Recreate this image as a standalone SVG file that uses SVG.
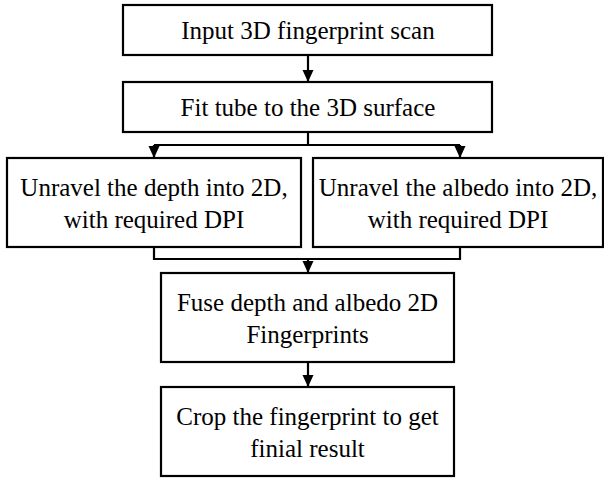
<svg xmlns="http://www.w3.org/2000/svg" width="604" height="478" viewBox="0 0 604 478">
<style>
.box{fill:#fff;stroke:#000;stroke-width:2.2}
.t{font-family:"Liberation Serif","Times New Roman",serif;font-size:25px;fill:#000;text-anchor:middle}
.c{fill:none;stroke:#000;stroke-width:2.2}
</style>
<defs>
<marker id="ah" markerUnits="userSpaceOnUse" markerWidth="12" markerHeight="12" viewBox="0 0 12 12" refX="12" refY="6" orient="auto">
<path d="M0,0.5 L12,6 L0,11.5 Z" fill="#000"/>
</marker>
</defs>
<g id="connectors">
<path class="c" d="M308,55 V82" marker-end="url(#ah)"/>
<path class="c" d="M308,132 V145"/>
<path class="c" d="M154,145 H460"/>
<path class="c" d="M154,145 V158" marker-end="url(#ah)"/>
<path class="c" d="M460,145 V158" marker-end="url(#ah)"/>
<path class="c" d="M154,247 V259 H460 V247"/>
<path class="c" d="M308,259 V273" marker-end="url(#ah)"/>
<path class="c" d="M308,362 V387" marker-end="url(#ah)"/>
</g>
<g id="n1">
<rect class="box" x="123" y="5" width="369" height="50"/>
<text class="t" x="308" y="39">Input 3D fingerprint scan</text>
</g>
<g id="n2">
<rect class="box" x="123" y="82" width="369" height="50"/>
<text class="t" x="308" y="116">Fit tube to the 3D surface</text>
</g>
<g id="n3">
<rect class="box" x="7" y="158" width="294" height="89"/>
<text class="t" x="154" y="195.5">Unravel the depth into 2D,</text>
<text class="t" x="154" y="227.5">with required  DPI</text>
</g>
<g id="n4">
<rect class="box" x="313" y="158" width="290" height="89"/>
<text class="t" x="458" y="195.5">Unravel the albedo into 2D,</text>
<text class="t" x="458" y="227.5">with required  DPI</text>
</g>
<g id="n5">
<rect class="box" x="161" y="273" width="293" height="89"/>
<text class="t" x="307.5" y="310.5">Fuse depth and albedo 2D</text>
<text class="t" x="307.5" y="342.5">Fingerprints</text>
</g>
<g id="n6">
<rect class="box" x="161" y="387" width="293" height="89"/>
<text class="t" x="307.5" y="424.5">Crop the fingerprint to get</text>
<text class="t" x="307.5" y="456.5">finial result</text>
</g>
</svg>
